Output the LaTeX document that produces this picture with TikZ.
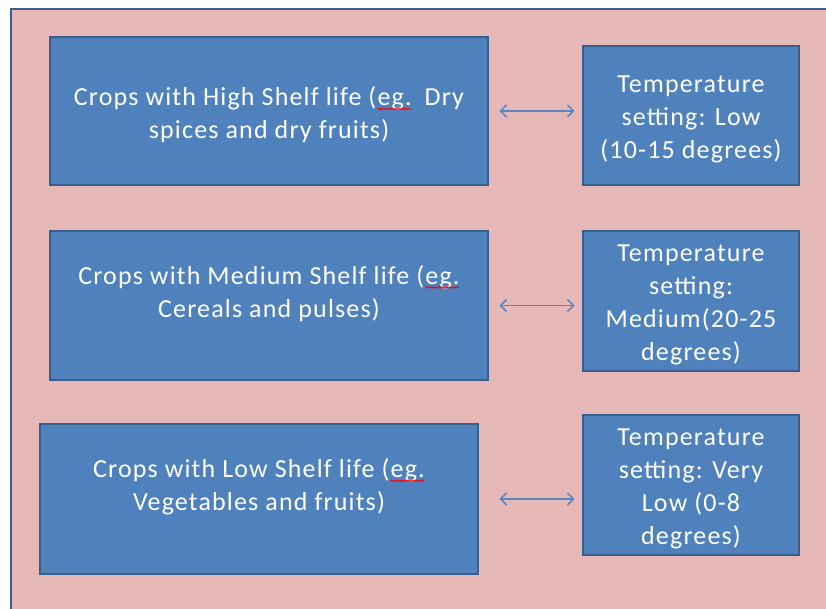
\documentclass[tikz,border=0pt]{standalone}
\usepackage{fontspec}
\setmainfont{Carlito}[LetterSpace=4.5]
\usetikzlibrary{arrows.meta,decorations.pathmorphing}
\definecolor{slidepink}{HTML}{E6B9B8}
\definecolor{boxblue}{HTML}{4F81BD}
\definecolor{boxedge}{HTML}{3A5E8C}
\definecolor{arrowblue}{HTML}{5B87C0}
\newlength\errwd
\newcommand\spellerr[1]{\settowidth\errwd{#1}#1\llap{\tikz[baseline=0pt]\draw[red,line width=0.8pt,decorate,decoration={snake,amplitude=0.7pt,segment length=2.6pt}] (0,-3pt) -- (\errwd,-3pt);}}
\begin{document}
\begin{tikzpicture}[x=1pt,y=-1pt,
  cropbox/.style={draw=boxedge, line width=2.8pt, fill=boxblue, inner sep=0pt},
  tempbox/.style={cropbox, minimum width=216pt},
  boxtext/.style={text=white, align=center, inner sep=0pt,
    font=\fontsize{26}{33}\selectfont},
  arr/.style={draw=arrowblue, line width=1.6pt,
    {Straight Barb[length=6pt,width=12pt]}-{Straight Barb[length=6pt,width=12pt]}}]
  \useasboundingbox (0,0) rectangle (826,608);
  \clip (0,0) rectangle (826,608);
  \fill[white] (0,0) rectangle (826,608);
  \draw[boxedge, line width=2pt, fill=slidepink] (11,9) rectangle (860,640);
  % storage classes
  \node[cropbox, minimum width=438pt, minimum height=148pt] (crophigh) at (269,111) {};
  \node[cropbox, minimum width=438pt, minimum height=149pt] (cropmed) at (269,305.5) {};
  \node[cropbox, minimum width=438pt, minimum height=150pt] (croplow) at (259,499) {};
  \node[boxtext] (crophightxt) at ([yshift=-4pt]crophigh.center)
    {Crops with High Shelf life (\spellerr{eg.}\hspace{0.5em}Dry\\spices and dry fruits)};
  \node[boxtext] (cropmedtxt) at ([yshift=12pt]cropmed.center)
    {Crops with Medium Shelf life (\spellerr{eg.}\\Cereals and pulses)};
  \node[boxtext] (croplowtxt) at ([yshift=12pt]croplow.center)
    {Crops with Low Shelf life (\spellerr{eg.}\\Vegetables and fruits)};
  % temperature settings
  \node[tempbox, minimum height=139pt] (temphigh) at (691,115.5) {};
  \node[tempbox, minimum height=140pt] (tempmed) at (691,301) {};
  \node[tempbox, minimum height=140pt] (templow) at (691,485) {};
  \node[boxtext] (temphightxt) at ([yshift=-4pt]temphigh.center)
    {Temperature\\setting: Low\\(10-15 degrees)};
  \node[boxtext] (tempmedtxt) at ([yshift=-4pt]tempmed.center)
    {Temperature\\setting:\\Medium(20-25\\degrees)};
  \node[boxtext] (templowtxt) at ([yshift=-4pt]templow.center)
    {Temperature\\setting: Very\\Low (0-8\\degrees)};
  % links
  \draw[arr, shorten <=10pt, shorten >=7pt] (crophigh.east) -- (crophigh.east -| temphigh.west);
  \draw[arr, shorten <=10pt, shorten >=7pt] (cropmed.east) -- (cropmed.east -| tempmed.west);
  \draw[arr, shorten <=20pt, shorten >=7pt] (croplow.east) -- (croplow.east -| templow.west);
\end{tikzpicture}
\end{document}
